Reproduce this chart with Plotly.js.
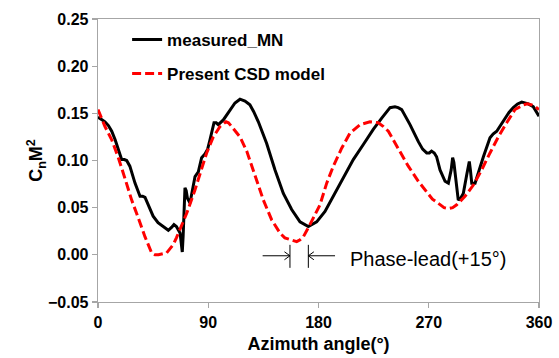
<!DOCTYPE html>
<html>
<head>
<meta charset="utf-8">
<script src="https://cdn.plot.ly/plotly-3.0.1.min.js"></script>
<style>html,body{margin:0;padding:0;background:#fff;}#chart{width:559px;height:358px;}</style>
</head>
<body>
<div id="chart"></div>
<script>
// Measured curve (azimuth deg, CnM^2)
const measuredAz = [0,3,5.7,8.5,11.2,14,16.6,19.3,21.5,23.4,26,28,30.2,34.3,36.5,38.4,41,45,49,52,54.7,57.4,60,62,64,65,67,68,68.8,69.5,70.3,71,72,73,75.1,77,79.2,81.9,84.6,87.3,89.5,91.4,94.7,96.5,98.2,102.3,107.8,111.8,115.9,120,124,127,130.9,137.7,144.5,151.3,158.1,164.9,171.7,178.5,185.3,191,197.6,203,208.4,216.6,224.7,231.6,238.4,242.4,245,247.9,251,254.7,261.5,265,268.3,270.5,272.3,274.5,276.4,279.2,283.3,286,288.3,289.5,290.5,291.4,294.1,296,298.2,301,303.1,304,305.1,307.8,311,314.6,320,322.5,325.5,329,332.2,335.5,339,342.5,345.9,348.5,351.3,355.3,358,360];
const measuredCn = [0.146,0.143,0.141,0.137,0.131,0.122,0.111,0.101,0.101,0.100,0.094,0.085,0.076,0.062,0.062,0.061,0.053,0.041,0.034,0.031,0.028,0.026,0.029,0.032,0.030,0.028,0.023,0.012,0.003,0.020,0.060,0.071,0.068,0.060,0.055,0.068,0.083,0.088,0.103,0.107,0.112,0.122,0.140,0.140,0.138,0.143,0.154,0.161,0.165,0.163,0.159,0.152,0.141,0.118,0.090,0.065,0.048,0.035,0.030,0.035,0.046,0.060,0.076,0.089,0.101,0.117,0.133,0.145,0.156,0.157,0.156,0.154,0.147,0.138,0.120,0.112,0.108,0.108,0.110,0.108,0.104,0.090,0.078,0.076,0.090,0.103,0.098,0.088,0.058,0.060,0.065,0.085,0.099,0.090,0.076,0.076,0.090,0.104,0.124,0.128,0.131,0.138,0.145,0.151,0.156,0.160,0.162,0.161,0.160,0.157,0.151,0.147];

// Present CSD model curve
const modelAz = [0,5.7,11.2,16.6,22,27.5,32.9,38.4,43.8,46.5,49.3,53,56,58.5,61.5,64,67,72.4,79.2,84.6,88.7,94.1,99.6,104.5,106.5,109.1,115.9,121.4,128.2,135,141.8,148.6,152.5,156.7,162.2,165,167.6,173,177,181.2,186.7,192.1,198.9,205.7,213.9,222,228.8,233,237,245.2,253.3,261.5,265.5,269.6,273,276.4,279.2,282.5,286,289.5,292.8,299.6,306.4,313.2,320,326.8,333.6,340.4,347.2,350.5,354,357,360];
const modelCn = [0.154,0.136,0.122,0.103,0.081,0.058,0.039,0.019,0.002,0.000,0.000,0.001,0.002,0.006,0.011,0.018,0.027,0.044,0.069,0.092,0.108,0.125,0.136,0.141,0.140,0.136,0.125,0.110,0.083,0.058,0.037,0.023,0.018,0.016,0.014,0.016,0.019,0.032,0.042,0.053,0.076,0.094,0.113,0.129,0.138,0.141,0.140,0.136,0.131,0.113,0.094,0.078,0.071,0.065,0.059,0.056,0.053,0.050,0.049,0.050,0.053,0.062,0.074,0.090,0.108,0.125,0.140,0.154,0.159,0.160,0.159,0.157,0.154];

const xTicks = [0, 90, 180, 270, 360];
const seriesNames = ["measured_MN", "Present CSD model"];

// Phase-lead annotation (data coords)
const leadMinAz = 156.7, leadMaxAz = 171.7;
const leadArrowY = -0.001;
const leftArrowStart = 134.4, rightArrowStart = 193.5;

const FONT = "Liberation Sans, Arial, sans-serif";
const axisColor = "#a6a6a6";

const traces = [
  {x: measuredAz, y: measuredCn, mode: "lines", name: seriesNames[0], legendgroup: "a",
   line: {color: "#000000", width: 3}},
  {x: modelAz, y: modelCn, mode: "lines", name: seriesNames[1], legendgroup: "b",
   line: {color: "#ff0000", width: 3, dash: "9px,4px"}}
];

// arrow heads: ~5px long, ~4px half-height (x: 0.816 deg/px, y: 0.00106/px)
const hx = 4.5, hy = 0.0042;
const ln = {color: "#000", width: 1};

const layout = {
  width: 559, height: 358,
  margin: {l: 98, r: 20, t: 19, b: 56},
  paper_bgcolor: "#ffffff", plot_bgcolor: "#ffffff",
  font: {family: FONT, color: "#000000"},
  showlegend: true,
  legend: {x: 0.066, y: 0.99, xanchor: "left", yanchor: "top", bgcolor: "rgba(0,0,0,0)",
           font: {family: FONT, size: 17, weight: "bold", color: "#000"},
           traceorder: "grouped", tracegroupgap: 9},
  xaxis: {range: [0, 360], tickvals: xTicks, ticktext: xTicks.map(String),
          showline: true, mirror: true, linecolor: axisColor, linewidth: 1.3,
          ticks: "outside", ticklen: 5, tickcolor: axisColor, tickwidth: 1.3,
          showgrid: false, zeroline: false,
          tickfont: {family: FONT, size: 16, weight: "bold", color: "#000"},
          title: {text: "Azimuth angle(°)", standoff: 8,
                  font: {family: FONT, size: 18, weight: "bold", color: "#000"}}},
  yaxis: {range: [-0.05, 0.25], dtick: 0.05, tick0: 0, tickformat: ".2f",
          showline: true, mirror: true, linecolor: axisColor, linewidth: 1.3,
          ticks: "outside", ticklen: 5, tickcolor: axisColor, tickwidth: 1.3,
          showgrid: false, zeroline: false,
          tickfont: {family: FONT, size: 16, weight: "bold", color: "#000"},
          title: {text: "C<sub>n</sub>M<sup>2</sup>", standoff: 0,
                  font: {family: FONT, size: 18, weight: "bold", color: "#000"}}},
  shapes: [
    {type: "line", xref: "x", yref: "y", x0: leadMinAz, x1: leadMinAz, y0: 0.0106, y1: -0.0138, line: ln},
    {type: "line", xref: "x", yref: "y", x0: leadMaxAz, x1: leadMaxAz, y0: 0.0106, y1: -0.0138, line: ln},
    {type: "line", xref: "x", yref: "y", x0: leftArrowStart, x1: leadMinAz, y0: leadArrowY, y1: leadArrowY, line: ln},
    {type: "line", xref: "x", yref: "y", x0: rightArrowStart, x1: leadMaxAz, y0: leadArrowY, y1: leadArrowY, line: ln},
    {type: "path", xref: "x", yref: "y", line: ln,
     path: `M ${leadMinAz - hx},${leadArrowY + hy} L ${leadMinAz},${leadArrowY} L ${leadMinAz - hx},${leadArrowY - hy}`},
    {type: "path", xref: "x", yref: "y", line: ln,
     path: `M ${leadMaxAz + hx},${leadArrowY + hy} L ${leadMaxAz},${leadArrowY} L ${leadMaxAz + hx},${leadArrowY - hy}`}
  ],
  annotations: [
    {x: 204, y: -0.004, xref: "x", yref: "y", xanchor: "left", yanchor: "middle", showarrow: false,
     text: "Phase-lead(+15°)", font: {family: FONT, size: 20, color: "#000"}}
  ]
};

Plotly.newPlot("chart", traces, layout, {displayModeBar: false, staticPlot: true});
</script>
</body>
</html>
